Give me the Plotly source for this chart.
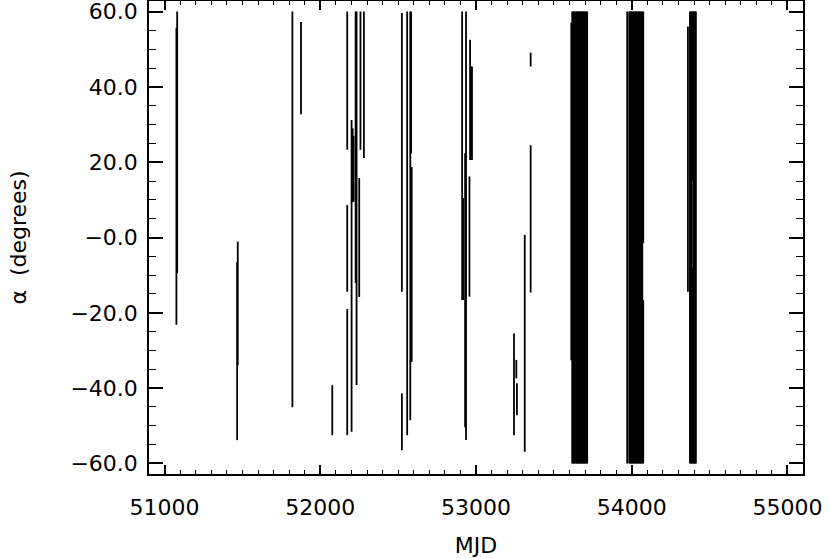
import plotly.graph_objects as go

# Observation segments: MJD and alpha range (degrees)
seg_mjd = [51081, 51076, 51470, 51466, 51821, 51876, 52077,
           52173, 52173, 52173, 52201, 52208, 52214, 52227, 52233, 52250,
           52258, 52280, 52524, 52524, 52558, 52578, 52583, 52587,
           52911, 52917, 52930, 52936, 52958, 52962, 52970, 52974,
           53244, 53259, 53263, 53313, 53351, 53351,
           # band near 53650
           53612, 53618, 53624, 53630, 53636, 53645, 53650, 53656, 53662,
           53668, 53673, 53679, 53685, 53690, 53696, 53702, 53708, 53714,
           # band near 54000
           53971, 53984, 53990, 53996, 54002, 54008, 54014, 54020, 54026,
           54032, 54038, 54044, 54050, 54056, 54062, 54068, 54074, 54074,
           # band near 54380
           54361, 54374, 54380, 54386, 54391, 54391, 54397, 54403, 54408, 54412]
seg_lo = [-9.4, -23.2, -33.9, -53.8, -45.1, 32.7, -52.5,
          23.3, -14.4, -52.5, -51.6, 9.4, 9.5, -12.1, -39.2, -15.8,
          23.3, 21.1, -14.4, -56.5, -52.5, -48.5, 22.4, -33.0,
          -16.6, -16.6, -50.4, -53.8, -15.7, 20.6, 20.6, 20.6,
          -52.5, -37.4, -47.2, -56.9, -14.6, 45.4,
          -32.6, -60, -60, -60, -60, -60, -60, -60, -60,
          -60, -60, -60, -60, -60, -60, -60, -60, -60,
          -60, -60, -60, -60, -60, -60, -60, -60, -60,
          -60, -60, -60, -60, -60, -60, -60, -1.5, -60,
          -14.4, -60, -60, -60, -60, 15.0, -60, -60, -60, -60]
seg_hi = [60, 55.7, -1.1, -6.5, 60, 57.2, -39.2,
          60, 8.6, -19.0, 31.2, 29.0, 27.0, 60, 60, 15.8,
          60, 60, 59.6, -41.4, 60, 60, 60, 18.7,
          60, 10.5, 22.4, 60, 16.2, 52.5, 45.4, 45.4,
          -25.5, -32.5, -38.7, 0.7, 24.5, 49.1,
          57.0, 60, 60, 60, 60, 60, 60, 60, 60,
          60, 60, 60, 60, 60, 60, 60, 60, 60,
          60, 60, 60, 60, 60, 60, 60, 60, 60,
          60, 60, 60, 60, 60, 60, 60, 60, -16.6,
          56.0, 60, 60, 60, -8.0, 60, 60, 60, 60, 60]

x_ticks = [51000, 52000, 53000, 54000, 55000]
y_ticks = [60, 40, 20, 0, -20, -40, -60]
y_tick_text = ["60.0", "40.0", "20.0", "\u22120.0", "\u221220.0", "\u221240.0", "\u221260.0"]

xs, ys = [], []
for m, lo, hi in zip(seg_mjd, seg_lo, seg_hi):
    xs += [m, m, None]
    ys += [lo, hi, None]

fig = go.Figure(go.Scatter(x=xs, y=ys, mode="lines",
                           line=dict(color="black", width=1.8),
                           hoverinfo="skip", showlegend=False))

font = dict(family="DejaVu Sans", size=22, color="black")

fig.update_layout(
    width=831, height=558,
    margin=dict(l=149, r=28, t=1, b=84),
    paper_bgcolor="white", plot_bgcolor="white",
    font=font,
    xaxis=dict(range=[50900, 55100], tickvals=x_ticks,
               ticktext=[str(v) for v in x_ticks],
               showgrid=False, zeroline=False, automargin=False,
               ticklabeloverflow="allow",
               showline=True, linecolor="black", linewidth=1.6, mirror="allticks",
               ticks="inside", ticklen=9, tickwidth=1.5, tickcolor="black",
               minor=dict(dtick=100, ticks="inside", ticklen=4.5, tickwidth=1.2,
                          tickcolor="black", showgrid=False),
               ticklabelstandoff=13,
               title=dict(text="MJD", font=font, standoff=24)),
    yaxis=dict(range=[-62.8, 62.8], tickvals=y_ticks, ticktext=y_tick_text,
               showgrid=False, zeroline=False, automargin=False,
               ticklabeloverflow="allow",
               showline=True, linecolor="black", linewidth=1.6, mirror="allticks",
               ticks="inside", ticklen=14, tickwidth=1.5, tickcolor="black",
               minor=dict(dtick=5, ticks="inside", ticklen=7, tickwidth=1.2,
                          tickcolor="black", showgrid=False),
               ticklabelstandoff=5,
               title=dict(text="\u03b1  (degrees)", font=font, standoff=38)),
)

fig.write_html("out.html", config={"displayModeBar": False},
               post_script="document.body.style.margin='0';")
